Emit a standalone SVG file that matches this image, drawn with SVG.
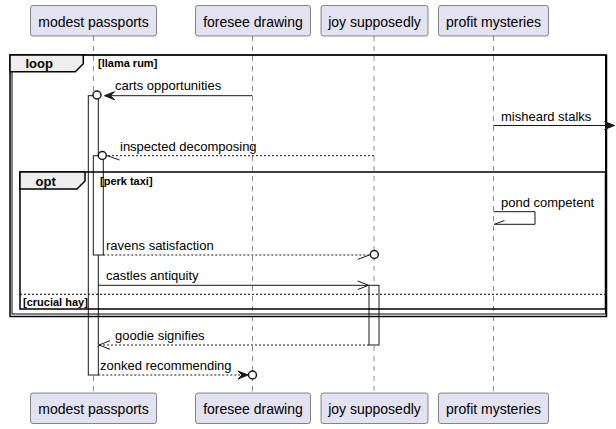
<svg xmlns="http://www.w3.org/2000/svg" width="616" height="429" viewBox="0 0 616 429">
<style>
.pbox{fill:#E2E2F0;stroke:#181818;stroke-width:0.5}
.ptxt{font-family:"Liberation Sans",Arial,sans-serif;font-size:14px;fill:#000;text-anchor:middle}
.life{stroke:#181818;stroke-width:0.5;stroke-dasharray:5,5;fill:none}
.act{fill:#fff;stroke:#181818;stroke-width:1}
.frame{fill:none;stroke:#000;stroke-width:1.5}
.tab{fill:#EEEEEE;stroke:#000;stroke-width:1.5}
.gt{font-family:"Liberation Sans",Arial,sans-serif;font-size:13px;font-weight:bold;fill:#000}
.gc{font-family:"Liberation Sans",Arial,sans-serif;font-size:11px;font-weight:bold;fill:#000}
.msg{stroke:#181818;stroke-width:1;fill:none}
.dash{stroke-dasharray:2,2}
.head{fill:#181818;stroke:#181818;stroke-width:1}
.circ{fill:#fff;stroke:#181818;stroke-width:1.5}
.mt{font-family:"Liberation Sans",Arial,sans-serif;font-size:13px;fill:#000}
.sep{stroke:#000;stroke-width:1;stroke-dasharray:2,2}
</style>
<g id="lifelines">
<line class="life" x1="93.5" y1="36" x2="93.5" y2="393"/>
<line class="life" x1="252.5" y1="36" x2="252.5" y2="393"/>
<line class="life" x1="374" y1="36" x2="374" y2="393"/>
<line class="life" x1="493.5" y1="36" x2="493.5" y2="393"/>
</g>
<g id="p-modest">
<rect class="pbox" x="30.5" y="5.5" width="126" height="30.5" rx="2.5"/>
<text class="ptxt" x="93.5" y="26.5">modest passports</text>
<rect class="pbox" x="30.5" y="393" width="126" height="30.5" rx="2.5"/>
<text class="ptxt" x="93.5" y="414">modest passports</text>
</g>
<g id="p-foresee">
<rect class="pbox" x="195.5" y="5.5" width="115" height="30.5" rx="2.5"/>
<text class="ptxt" x="253" y="26.5">foresee drawing</text>
<rect class="pbox" x="195.5" y="393" width="115" height="30.5" rx="2.5"/>
<text class="ptxt" x="253" y="414">foresee drawing</text>
</g>
<g id="p-joy">
<rect class="pbox" x="321" y="5.5" width="107" height="30.5" rx="2.5"/>
<text class="ptxt" x="374.5" y="26.5">joy supposedly</text>
<rect class="pbox" x="321" y="393" width="107" height="30.5" rx="2.5"/>
<text class="ptxt" x="374.5" y="414">joy supposedly</text>
</g>
<g id="p-profit">
<rect class="pbox" x="438.5" y="5.5" width="110" height="30.5" rx="2.5"/>
<text class="ptxt" x="493.5" y="26.5">profit mysteries</text>
<rect class="pbox" x="438.5" y="393" width="110" height="30.5" rx="2.5"/>
<text class="ptxt" x="493.5" y="414">profit mysteries</text>
</g>
<g id="activations">
<rect class="act" x="88.3" y="95.7" width="10" height="279.3"/>
<rect class="act" x="93.3" y="155.7" width="10" height="99.3"/>
<rect class="act" x="369" y="285.3" width="10" height="59.7"/>
</g>
<g id="loop">
<rect class="frame" x="10" y="55" width="596.5" height="261.5"/>
<rect fill="none" stroke="#000" stroke-width="1" x="12" y="55" width="593.5" height="259"/>
<polygon class="tab" points="10,55 83.3,55 83.3,63.7 75.3,71.7 10,71.7"/>
<text class="gt" x="25.5" y="68">loop</text>
<text class="gc" x="98" y="67">[llama rum]</text>
</g>
<g id="opt">
<rect class="frame" x="20" y="172" width="585.5" height="137"/>
<polygon class="tab" points="20,172 85,172 85,181 77,189 20,189"/>
<text class="gt" x="35.5" y="186">opt</text>
<text class="gc" x="100" y="185">[perk taxi]</text>
<line class="sep" x1="20" y1="294.3" x2="605.5" y2="294.3"/>
<text class="gc" x="23" y="306">[crucial hay]</text>
</g>
<g id="connectors">
<line class="msg" x1="252.5" y1="95.7" x2="108" y2="95.7"/>
<polygon class="head" points="104.5,95.7 114.5,91.7 110.5,95.7 114.5,99.7"/>
<circle class="circ" cx="97" cy="95" r="4"/>
<text class="mt" x="115" y="89.5">carts opportunities</text>

<line class="msg" x1="493.5" y1="125.5" x2="610" y2="125.5"/>
<polygon class="head" points="614.5,125.5 604.5,121.5 608.5,125.5 604.5,129.5"/>
<text class="mt" x="501" y="120.5">misheard stalks</text>

<line class="msg dash" x1="374" y1="155.7" x2="106.5" y2="155.7"/>
<line class="msg" x1="107" y1="155.7" x2="119.5" y2="160"/>
<circle class="circ" cx="102.3" cy="155.5" r="4"/>
<text class="mt" x="120" y="150.5">inspected decomposing</text>

<polyline class="msg" points="493.5,211.7 535,211.7 535,224.3 494.3,224.3"/>
<line class="msg" x1="494.3" y1="224.3" x2="504.5" y2="220.5"/>
<text class="mt" x="501" y="206.5">pond competent</text>

<line class="msg dash" x1="103.3" y1="255" x2="370" y2="255"/>
<line class="msg" x1="357.7" y1="259.3" x2="369.5" y2="255"/>
<circle class="circ" cx="374.3" cy="254.5" r="4"/>
<text class="mt" x="106" y="249.5">ravens satisfaction</text>

<line class="msg" x1="98.3" y1="285.3" x2="368.5" y2="285.3"/>
<polyline class="msg" points="357.7,281 368.5,285.3 357.7,289.6"/>
<text class="mt" x="106" y="280">castles antiquity</text>

<line class="msg dash" x1="369" y1="345" x2="99" y2="345"/>
<polyline class="msg" points="110,340.7 99,345 110,349.3"/>
<text class="mt" x="115" y="340">goodie signifies</text>

<line class="msg dash" x1="98.3" y1="375" x2="242" y2="375"/>
<polygon class="head" points="248,375 238,371 242,375 238,379"/>
<circle class="circ" cx="252.5" cy="375" r="4"/>
<text class="mt" x="100" y="369.5">zonked recommending</text>
</g>
</svg>
